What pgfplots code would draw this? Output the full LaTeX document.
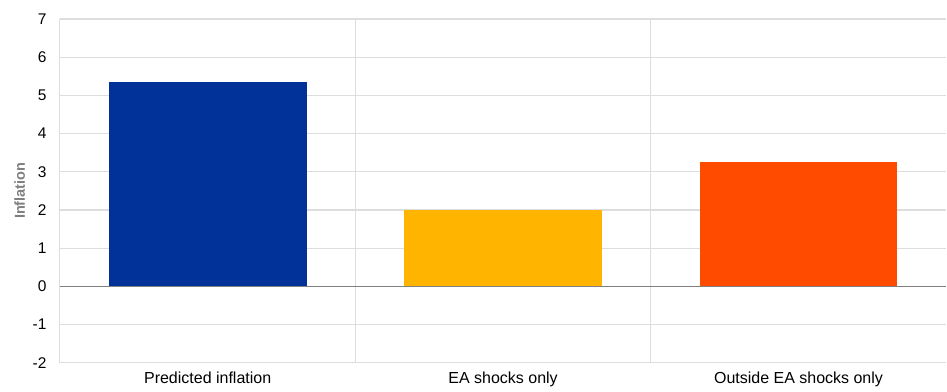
\documentclass[border=0pt]{standalone}
\usepackage{pgfplots}
\pgfplotsset{compat=1.18}
\usepackage{fontspec}
\setmainfont{Liberation Sans}
\definecolor{ecbblue}{HTML}{003299}
\definecolor{ecbyellow}{HTML}{FFB400}
\definecolor{ecborange}{HTML}{FF4B00}
\definecolor{gridgray}{HTML}{DDDDDD}
\definecolor{labgray}{HTML}{7F7F7F}
\begin{document}
\begin{tikzpicture}
\begin{axis}[
  scale only axis,
  width=887pt, height=344pt,
  xmin=-0.5, xmax=2.5,
  ymin=-2, ymax=7,
  axis line style={draw=none},
  xtick={0,1,2},
  xticklabels={Predicted inflation, EA shocks only, Outside EA shocks only},
  minor xtick={-0.5,0.5,1.5},
  ytick={-2,-1,0,1,2,3,4,5,6,7},
  yticklabels={-2,-1,0,1,2,3,4,5,6,7},
  ymajorgrids, xminorgrids,
  major grid style={gridgray, line width=1.2pt},
  minor grid style={gridgray, line width=1pt},
  major tick length=0pt, minor tick length=0pt,
  xticklabel style={font=\fontsize{16}{18}\selectfont, text=black, yshift=-6pt},
  yticklabel style={font=\fontsize{15.5}{18}\selectfont, text=black, xshift=-10pt},
  ylabel={Inflation},
  every axis y label/.style={at={(axis description cs:-0.0455,0.5)}, rotate=90, anchor=center,
    font=\fontsize{14.5}{16}\selectfont\bfseries, text=labgray},
  clip=false,
]
\addplot[ybar, bar width=0.67, fill=ecbblue, draw=none] coordinates {(0,5.34)};
\addplot[ybar, bar width=0.67, fill=ecbyellow, draw=none] coordinates {(1,2.0)};
\addplot[ybar, bar width=0.67, fill=ecborange, draw=none] coordinates {(2,3.25)};
\draw[color=gray, line width=1.6pt] (axis cs:-0.5,0) -- (axis cs:2.5,0);
\end{axis}
\path ([xshift=-60pt,yshift=-29pt]current axis.south west) rectangle ([yshift=19pt]current axis.north east);
\end{tikzpicture}
\end{document}
